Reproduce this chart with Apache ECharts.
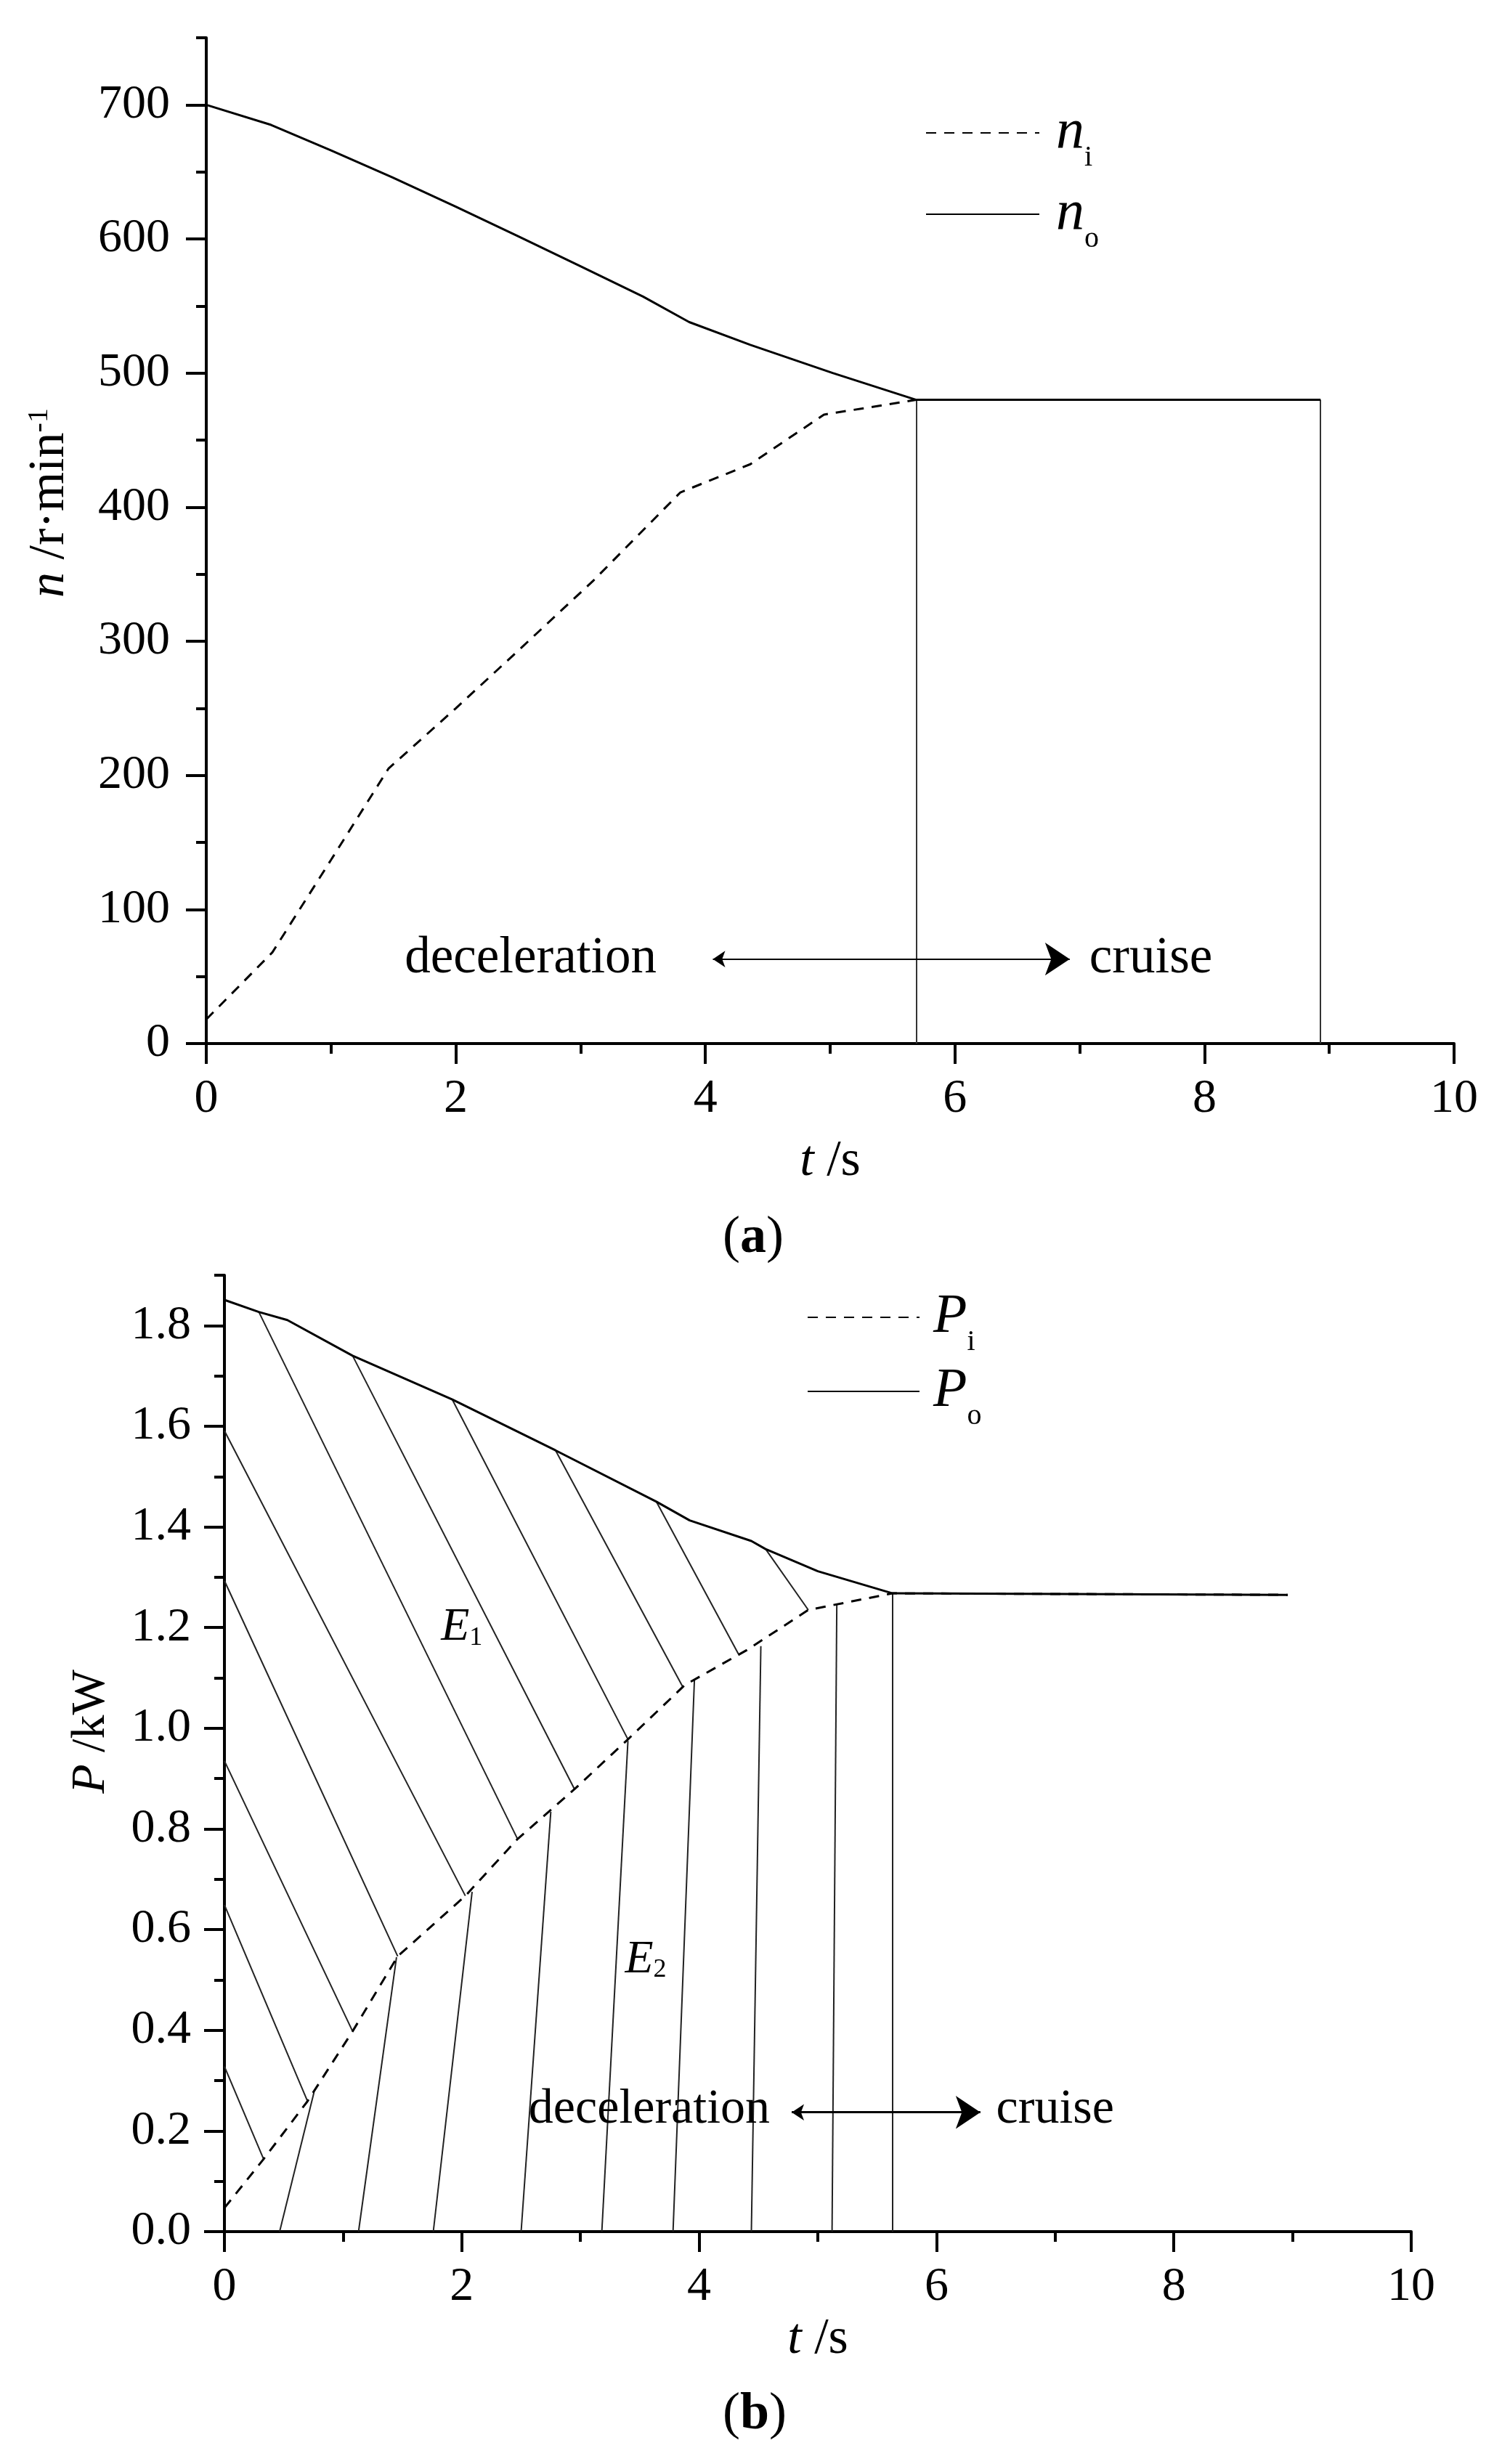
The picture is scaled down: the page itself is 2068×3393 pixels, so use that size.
<!DOCTYPE html>
<html>
<head>
<meta charset="utf-8">
<script src="https://cdn.jsdelivr.net/npm/echarts@6/dist/echarts.min.js"></script>
<style>
html,body{margin:0;padding:0;background:#fff;}
#main{width:2068px;height:3393px;}
</style>
</head>
<body>
<div id="main"></div>
<script>
// ---- (a) speed ----
var tNi = [0, 0.53, 1.0, 1.46, 2.0, 2.5, 3.1, 3.8, 4.36, 4.95, 5.69, 8.93];
var nI  = [18, 68, 137, 205, 250, 293, 345, 411, 432, 469, 480, 480];
var tNo = [0, 0.52, 1.0, 1.49, 2.0, 2.5, 2.99, 3.5, 3.87, 4.36, 5.02, 5.69, 8.93];
var nO  = [700, 685, 666, 646, 624, 602, 580, 557, 538, 521, 500, 480, 480];
var cutA = [5.69, 8.93];          // vertical lines, 0 -> 480
var cutALevel = 480;
var arrowA = [[4.06, 63], [6.92, 63]];
var textA = ['deceleration', 'cruise'];
var textAPos = [[2.6, 63], [7.57, 63]];
var yTicksA = [0, 100, 200, 300, 400, 500, 600, 700];

// ---- (b) power ----
var tPi = [0, 0.33, 0.70, 1.08, 1.46, 2.03, 2.47, 2.95, 3.40, 3.88, 4.40, 4.92, 5.63, 8.96];
var pI  = [0.047, 0.144, 0.259, 0.398, 0.547, 0.667, 0.780, 0.879, 0.978, 1.086, 1.155, 1.235, 1.268, 1.265];
var tPo = [0, 0.29, 0.53, 1.08, 1.92, 2.79, 3.64, 3.92, 4.44, 4.56, 5.0, 5.63, 8.96];
var pO  = [1.851, 1.827, 1.811, 1.740, 1.653, 1.552, 1.450, 1.413, 1.372, 1.356, 1.312, 1.268, 1.265];
// hatching E1 (slanted) and E2 (near vertical)
var e1From = [[0,0.328],[0,0.649],[0,0.935],[0,1.293],[0,1.591],[0.29,1.827],[1.08,1.740],[1.92,1.653],[2.79,1.552],[3.64,1.450],[4.56,1.356]];
var e1To   = [[0.33,0.144],[0.70,0.259],[1.08,0.398],[1.46,0.547],[2.03,0.667],[2.47,0.780],[2.95,0.879],[3.40,0.978],[3.86,1.083],[4.33,1.148],[4.92,1.235]];
var e2From = [0.465, 1.13, 1.76, 2.50, 3.18, 3.78, 4.44, 5.12, 5.63];
var e2To   = [[0.755,0.277],[1.45,0.545],[2.087,0.675],[2.75,0.834],[3.40,0.975],[3.96,1.095],[4.52,1.163],[5.16,1.248],[5.63,1.268]];
var arrowB = [[4.78, 0.237], [6.37, 0.237]];
var textB = ['deceleration', 'cruise', '{e|E}{s|1}', '{e|E}{s|2}'];
var textBPos = [[3.58, 0.242], [7.0, 0.242], [2.0, 1.20], [3.55, 0.54]];
var yTicksB = [0, 0.2, 0.4, 0.6, 0.8, 1.0, 1.2, 1.4, 1.6, 1.8];

var FONT = 'Liberation Serif';

function pairs(xs, ys) {
  var out = [];
  for (var i = 0; i < xs.length; i++) out.push([xs[i], ys[i]]);
  return out;
}

function xAx(g, nameGap) {
  return {
    type: 'value', gridIndex: g, min: 0, max: 10, interval: 2,
    axisLine: { lineStyle: { color: '#000', width: 4 } },
    axisTick: { length: 28, lineStyle: { color: '#000', width: 4 } },
    minorTick: { show: true, splitNumber: 2, length: 14, lineStyle: { color: '#000', width: 4 } },
    axisLabel: { fontFamily: FONT, fontSize: 66, color: '#000', margin: 44 },
    splitLine: { show: false },
    name: '{i|t} /s', nameLocation: 'middle', nameGap: nameGap,
    nameTextStyle: { fontFamily: FONT, fontSize: 70, color: '#000',
      rich: { i: { fontFamily: FONT, fontSize: 70, fontStyle: 'italic', color: '#000' } } }
  };
}

var chart = echarts.init(document.getElementById('main'));

var option = {
  backgroundColor: '#fff',
  animation: false,
  title: [
    { text: '({b|a})', left: 990, top: 1664,
      textStyle: { fontFamily: FONT, fontSize: 72, fontWeight: 'normal', color: '#000',
        rich: { b: { fontFamily: FONT, fontSize: 72, fontWeight: 'bold', color: '#000' } } } },
    { text: '({b|b})', left: 990, top: 3284,
      textStyle: { fontFamily: FONT, fontSize: 72, fontWeight: 'normal', color: '#000',
        rich: { b: { fontFamily: FONT, fontSize: 72, fontWeight: 'bold', color: '#000' } } } }
  ],
  grid: [
    { left: 284, right: 66, top: 52, bottom: 1956, outerBoundsMode: 'none' },
    { left: 309, right: 125, top: 1756, bottom: 320, outerBoundsMode: 'none' }
  ],
  legend: [
    { orient: 'vertical', left: 1269, top: 138, itemWidth: 156, itemHeight: 20, itemGap: 18,
      data: ['n_i', 'n_o'],
      itemStyle: { color: 'rgba(0,0,0,0)', borderWidth: 0 },
      formatter: function (name) { return name === 'n_i' ? '{v|n}{s|i}' : '{v|n}{s|o}'; },
      textStyle: { fontFamily: FONT, color: '#000', lineHeight: 80, padding: [0, 0, 0, 18],
        rich: { v: { fontFamily: FONT, fontSize: 78, fontStyle: 'italic', color: '#000' },
                s: { fontFamily: FONT, fontSize: 40, color: '#000', verticalAlign: 'bottom', padding: [0, 0, -14, 0] } } } },
    { orient: 'vertical', left: 1106, top: 1769, itemWidth: 154, itemHeight: 20, itemGap: 8,
      data: ['P_i', 'P_o'],
      itemStyle: { color: 'rgba(0,0,0,0)', borderWidth: 0 },
      formatter: function (name) { return name === 'P_i' ? '{v|P}{s|i}' : '{v|P}{s|o}'; },
      textStyle: { fontFamily: FONT, color: '#000', lineHeight: 80, padding: [0, 0, 0, 14],
        rich: { v: { fontFamily: FONT, fontSize: 76, fontStyle: 'italic', color: '#000' },
                s: { fontFamily: FONT, fontSize: 40, color: '#000', verticalAlign: 'bottom', padding: [0, 0, -14, 0] } } } }
  ],
  xAxis: [xAx(0, 128), xAx(1, 114)],
  yAxis: [
    { type: 'value', gridIndex: 0, position: 'left', min: 0, max: 750, interval: 50,
      axisLine: { lineStyle: { color: '#000', width: 4 } },
      axisTick: { customValues: yTicksA, length: 28, lineStyle: { color: '#000', width: 4 } },
      axisLabel: { customValues: yTicksA, fontFamily: FONT, fontSize: 66, color: '#000', margin: 50 },
      splitLine: { show: false },
      name: '{i|n} /r·min{p|-1}', nameLocation: 'middle', nameGap: 180,
      nameTextStyle: { fontFamily: FONT, fontSize: 70, color: '#000', padding: [0, 0, 0, 104],
        rich: { i: { fontFamily: FONT, fontSize: 70, fontStyle: 'italic', color: '#000' },
                p: { fontFamily: FONT, fontSize: 40, color: '#000', verticalAlign: 'top' } } } },
    { type: 'value', gridIndex: 0, position: 'left', offset: 0, min: 0, max: 750, interval: 50,
      axisLine: { show: false },
      axisTick: { length: 14, lineStyle: { color: '#000', width: 4 } },
      axisLabel: { show: false }, splitLine: { show: false } },
    { type: 'value', gridIndex: 1, position: 'left', min: 0, max: 1.9, interval: 0.1,
      axisLine: { lineStyle: { color: '#000', width: 4 } },
      axisTick: { customValues: yTicksB, length: 28, lineStyle: { color: '#000', width: 4 } },
      axisLabel: { customValues: yTicksB, fontFamily: FONT, fontSize: 66, color: '#000', margin: 46,
        formatter: function (v) { return v.toFixed(1); } },
      splitLine: { show: false },
      name: '{i|P} /kW', nameLocation: 'middle', nameGap: 150,
      nameTextStyle: { fontFamily: FONT, fontSize: 66, color: '#000', padding: [0, 0, 0, 60],
        rich: { i: { fontFamily: FONT, fontSize: 66, fontStyle: 'italic', color: '#000' } } } },
    { type: 'value', gridIndex: 1, position: 'left', offset: 0, min: 0, max: 1.9, interval: 0.1,
      axisLine: { show: false },
      axisTick: { length: 14, lineStyle: { color: '#000', width: 4 } },
      axisLabel: { show: false }, splitLine: { show: false } }
  ],
  series: []
};

function curve(name, xi, yi, data, dashed) {
  return { name: name, type: 'line', xAxisIndex: xi, yAxisIndex: yi, data: data,
    showSymbol: false, symbol: 'none', z: 5,
    itemStyle: { color: '#000' },
    lineStyle: { color: '#000', width: 3, type: dashed ? [14, 11] : 'solid' } };
}
function segs(xi, yi, data, color, width, z) {
  return { type: 'lines', coordinateSystem: 'cartesian2d', xAxisIndex: xi, yAxisIndex: yi,
    data: data, symbol: 'none', z: z || 3, silent: true,
    lineStyle: { color: color, width: width, opacity: 1 } };
}
function arrow(xi, yi, pts, width) {
  return { type: 'lines', coordinateSystem: 'cartesian2d', xAxisIndex: xi, yAxisIndex: yi,
    data: [{ coords: pts }], symbol: ['arrow', 'arrow'], symbolSize: [17, 34], z: 4, silent: true,
    lineStyle: { color: '#000', width: width, opacity: 1 } };
}
function texts(xi, yi, pos, labels, size) {
  var data = [];
  for (var i = 0; i < pos.length; i++) data.push({ value: pos[i], name: labels[i] });
  return { type: 'scatter', xAxisIndex: xi, yAxisIndex: yi, data: data, symbolSize: 1, z: 6,
    itemStyle: { color: 'rgba(0,0,0,0)' }, silent: true,
    label: { show: true, position: 'inside', fontFamily: FONT, fontSize: size, color: '#000', opacity: 1,
      formatter: function (p) { return p.name; },
      rich: { e: { fontFamily: FONT, fontSize: 64, fontStyle: 'italic', color: '#000' },
              s: { fontFamily: FONT, fontSize: 36, color: '#000', verticalAlign: 'bottom' } } } };
}

// (a)
var cutAData = cutA.map(function (t) { return { coords: [[t, 0], [t, cutALevel]] }; });
option.series.push(segs(0, 0, cutAData, '#333', 2));
option.series.push(arrow(0, 0, arrowA, 2));
option.series.push(texts(0, 0, textAPos, textA, 71));
option.series.push(curve('n_i', 0, 0, pairs(tNi, nI), true));
option.series.push(curve('n_o', 0, 0, pairs(tNo, nO), false));

// (b)
var e1Data = e1From.map(function (p, i) { return { coords: [p, e1To[i]] }; });
var e2Data = e2From.map(function (t, i) { return { coords: [[t, 0], e2To[i]] }; });
option.series.push(segs(1, 2, e1Data, '#222', 2));
option.series.push(segs(1, 2, e2Data, '#222', 2));
option.series.push(arrow(1, 2, arrowB, 3));
option.series.push(texts(1, 2, textBPos, textB, 68));
option.series.push(curve('P_i', 1, 2, pairs(tPi, pI), true));
option.series.push(curve('P_o', 1, 2, pairs(tPo, pO), false));

chart.setOption(option);
</script>
</body>
</html>
